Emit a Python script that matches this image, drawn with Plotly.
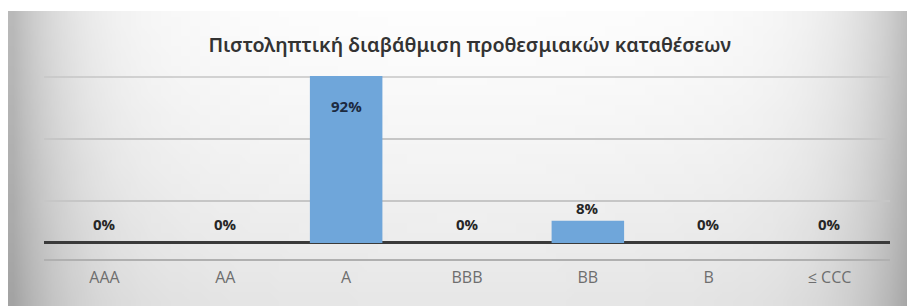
import base64
import struct
import zlib

import plotly.graph_objects as go

categories = ["AAA", "AA", "A", "BBB", "BB", "B", "≤ CCC"]
shares = [0.0, 0.0, 0.92, 0.0, 0.08, 0.0, 0.0]
label_texts = ["0%", "0%", "92%", "0%", "8%", "0%", "0%"]
title_text = "Πιστοληπτική διαβάθμιση προθεσμιακών καταθέσεων"

Y_MIN, Y_MAX = -0.058, 0.6036
GRID_TOP = 0.6

# ---- background gradient image (decoration only) ----
def gradient_png(w, h):
    rows = []
    for j in range(h):
        v = j / (h - 1)
        row = bytearray()
        for i in range(w):
            u = i / (w - 1)
            a = abs(2 * u - 1)
            dark = 60 * a ** 8 + 22 * v ** 1.3 + 8 * a ** 2
            row.append(max(0, min(255, round(253 - dark))))
        rows.append(row)
    raw = b"".join(b"\x00" + bytes(r) for r in rows)

    def chunk(tag, data):
        c = struct.pack(">I", len(data)) + tag + data
        return c + struct.pack(">I", zlib.crc32(tag + data) & 0xFFFFFFFF)

    png = b"\x89PNG\r\n\x1a\n"
    png += chunk(b"IHDR", struct.pack(">IIBBBBB", w, h, 8, 0, 0, 0, 0))
    png += chunk(b"IDAT", zlib.compress(raw, 9))
    png += chunk(b"IEND", b"")
    return "data:image/png;base64," + base64.b64encode(png).decode()

fig = go.Figure()
fig.add_trace(go.Bar(
    x=categories, y=shares,
    marker=dict(color="#6fa6da", line=dict(width=0)),
    width=0.6, hoverinfo="skip",
))

annotations = []
for c, v, s in zip(categories, shares, label_texts):
    if v > Y_MAX:
        annotations.append(dict(x=c, y=Y_MAX, text="<b>%s</b>" % s, showarrow=False,
                                yanchor="middle", yshift=-30,
                                font=dict(family="Open Sans", size=15, color="#1c2a3f")))
    else:
        annotations.append(dict(x=c, y=v, text="<b>%s</b>" % s, showarrow=False,
                                yanchor="middle", yshift=19 if v == 0 else 13,
                                font=dict(family="Open Sans", size=15, color="#262626")))

W, H = 907, 298
L, R, T, B = 36, 25, 68, 47
pw, ph = W - L - R, H - T - B
x_left = (0 - L) / pw
x_right = (W - L) / pw
y_top = (H - B - 3) / ph
y_bot = (H - B - H) / ph

fig.update_layout(
    width=W, height=H,
    margin=dict(l=L, r=R, t=T, b=B),
    paper_bgcolor="white",
    plot_bgcolor="rgba(0,0,0,0)",
    showlegend=False,
    bargap=0.4,
    title=dict(text=title_text, x=0.509, xanchor="center", y=1 - 37 / H, yanchor="middle",
               font=dict(family="Noto Sans", size=19.7, weight=600, color="#333333")),
    images=[dict(source=gradient_png(92, 30), xref="paper", yref="paper",
                 x=x_left, y=y_top, sizex=x_right - x_left, sizey=y_top - y_bot,
                 xanchor="left", yanchor="top", sizing="stretch", layer="below")],
    shapes=[dict(type="line", xref="paper", yref="y", x0=0, x1=1, y0=GRID_TOP, y1=GRID_TOP,
                 line=dict(color="#c6c6c6", width=1.5), layer="below")],
    annotations=annotations,
    xaxis=dict(showline=True, linecolor="#b0b0b0", linewidth=1.5, ticks="",
               ticklabelstandoff=3,
               tickfont=dict(family="Open Sans", size=16, color="#6e6e6e"),
               showgrid=False, fixedrange=True),
    yaxis=dict(range=[Y_MIN, Y_MAX], tickvals=[0.152, 0.376], showticklabels=False,
               showgrid=True, gridcolor="#c6c6c6", gridwidth=1.5,
               zeroline=True, zerolinecolor="#3a3a3a", zerolinewidth=3,
               showline=False, fixedrange=True),
)

fig.write_html("out.html")
